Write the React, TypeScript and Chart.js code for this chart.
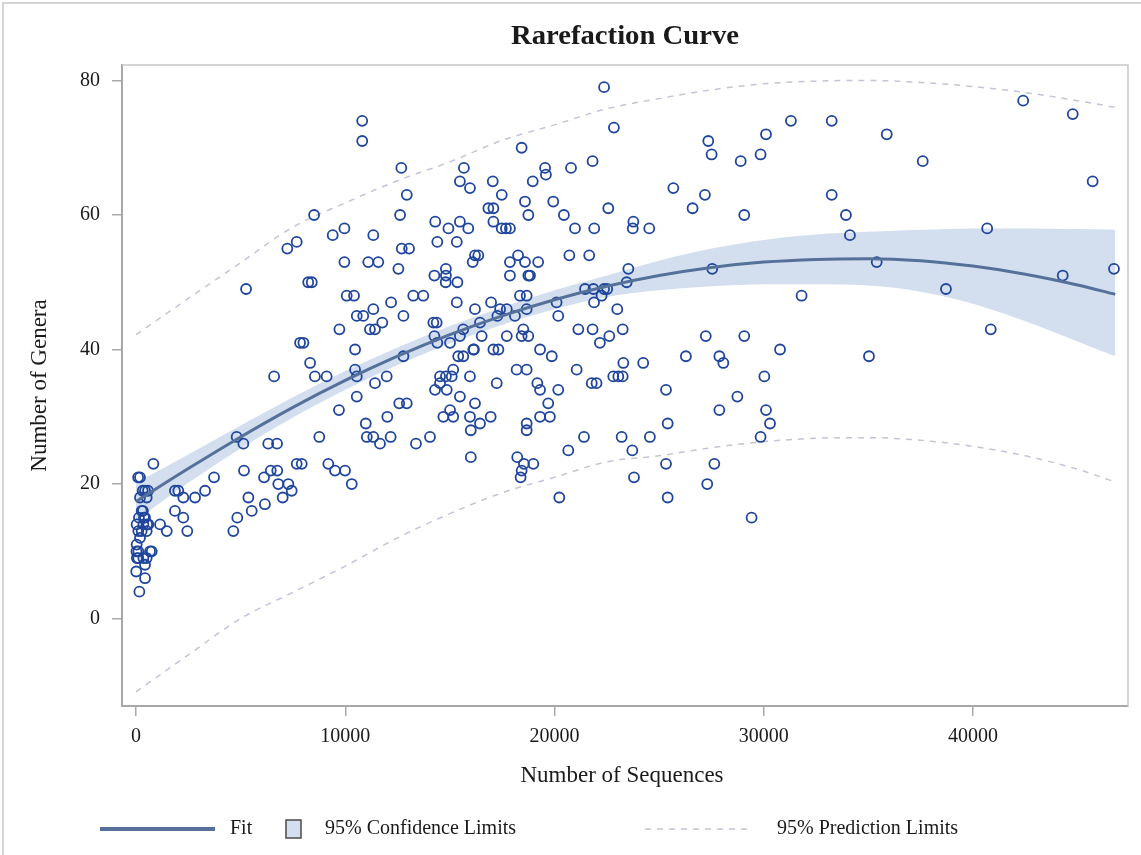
import React, { useEffect, useRef } from 'react';
import { Chart, registerables } from 'chart.js';

Chart.register(...registerables);

// ---- Data ----
const titleText = 'Rarefaction Curve';
const xTitle = 'Number of Sequences';
const yTitle = 'Number of Genera';
const legendLabels = ['Fit', '95% Confidence Limits', '95% Prediction Limits'];

const xTicks = [0, 10000, 20000, 30000, 40000];
const yTicks = [0, 20, 40, 60, 80];

// observed samples: [number of sequences, number of genera]
const observations: [number, number][] = [
  [830,23],[190,21],[100,21],[320,19],[570,19],[430,19],[190,18],[510,18],[330,16],[270,16],[430,15],[30,14],[350,14],[590,14],[110,13],[270,13],[510,13],[190,12],[140,15],[530,14],[380,15],[30,11],[110,10],[20,10],[110,9],[750,10],[510,9],[350,9],[430,8],[10,7],[430,6],[160,4],[40,9],[670,10],
  [1860,19],[2020,19],[2260,18],[2820,18],[3300,19],[3730,21],[1860,16],[2260,15],[2450,13],[1150,14],[1470,13],[4810,27],[5130,26],[6320,26],[6740,26],[5160,22],[6120,21],[6440,22],[6750,22],[6800,20],[7280,20],[7010,18],[7440,19],[5370,18],[5530,16],[6160,17],[4840,15],[4650,13],[7680,23],[7920,23],
  [6600,36],[7840,41],[8760,27],[9700,31],[10550,33],[11420,35],[10980,29],[11030,27],[11340,27],[11660,26],[12010,30],[12170,27],[12580,32],[12940,32],[9190,23],[9510,22],[9990,22],[10310,20],
  [10810,74],[10810,71],[12680,67],[15670,67],[12940,63],[15480,65],[15960,64],[17050,65],[8510,60],[12620,60],[9400,57],[9960,58],[11340,57],[7230,55],[7680,56],[12700,55],[13050,55],[14300,59],[14930,58],[15480,59],[15880,58],[14400,56],[15330,56],[16840,61],[17080,61],[17080,59],[9960,53],[11100,53],[11580,53],[12540,52],[16200,54],[16360,54],[16090,53],[5260,49],[8230,50],[8400,50],[10070,48],[10420,48],[13250,48],[13730,48],[14260,51],[14810,52],[14810,51],[15360,50],[14800,50],[12190,47],[10550,45],[10860,45],[11340,46],[12780,45],[15330,47],[16200,46],[16970,47],[11180,43],[11420,43],[11770,44],[9720,43],[8000,41],[14210,44],[14370,44],[14260,42],[14400,41],[15010,41],[15480,42],[15640,43],[16150,40],[16520,42],[16440,44],[10470,40],[8320,38],[8550,36],[9110,36],[10470,37],[10550,36],[11980,36],[12780,39],[15400,39],[15640,39],[16120,40],[14530,36],[14810,36],[15160,37],[15090,36],[15960,36],[14530,35],[14290,34],[14850,34],[15480,33],[16200,32],[17080,40],[17320,40],[17240,35],
  [17870,53],[18260,54],[18590,53],[19220,53],[17870,51],[18750,51],[18830,51],[17720,46],[17400,46],[17270,45],[18110,45],[18350,48],[18670,48],[18670,46],[18510,43],[18750,42],[18430,42],[17720,42],[19310,40],[15010,31],[15160,30],[14690,30],[15960,30],[16440,29],[18190,37],[18670,37],[19180,35],[19310,34],[19700,32],[16950,30],[18670,29],[19310,30],[18670,28],
  [13380,26],[14050,27],[16000,24],[18220,24],[18540,23],[18430,22],[18380,21],[18990,23],[20660,25],[21410,27],[20230,18],[23210,27],[24560,27],[23720,25],[23800,21],[25330,34],[25410,29],[25330,23],[25410,18],[16000,28],
  [22370,79],[22840,73],[18430,70],[21820,68],[19550,67],[19590,66],[20790,67],[17480,63],[18960,65],[18590,62],[18750,60],[19940,62],[20450,60],[20980,58],[21900,58],[22570,61],[23770,59],[23740,58],[24530,58],[25680,64],[26600,61],[17480,58],[17680,58],[17870,58],[20710,54],[21660,54],[23530,52],[23450,50],[21460,49],[21860,49],[22370,49],[22520,49],[21890,47],[22250,48],[23000,46],[20100,47],[20180,45],[21140,43],[21820,43],[22170,41],[22620,42],[23260,43],[24240,38],[23290,38],[26280,39],[21060,37],[22810,36],[23050,36],[23260,36],[21780,35],[22010,35],[20180,34],[19870,39],[19780,30],
  [42400,77],[44770,75],[31300,74],[33250,74],[35880,72],[30110,72],[27350,71],[27510,69],[28900,68],[29850,69],[37600,68],[45720,65],[27190,63],[29070,60],[33250,63],[33930,60],[34120,57],[40680,58],[27540,52],[35400,53],[44290,51],[46740,52],[31810,48],[38710,49],[40850,43],[35030,39],[27230,42],[29070,42],[27880,39],[28070,38],[30780,40],[30030,36],[28740,33],[27880,31],[30110,31],[30300,29],[29850,27],[27640,23],[27300,20],[29420,15],
];

// fitted curve and limits, read at these x positions
const curveX = [0, 2500, 5000, 7500, 10000, 12500, 15000, 17500, 20000, 22500, 25000, 27500, 30000, 32500, 35000, 37500, 40000, 42500, 45000, 46800];
const fitY = [17.4, 22.3, 27.0, 31.4, 35.4, 39.0, 42.2, 45.0, 47.4, 49.4, 51.0, 52.2, 53.0, 53.4, 53.5, 53.2, 52.4, 51.2, 49.6, 48.2];
const clmUpper = [20.2, 24.4, 28.7, 32.9, 36.8, 40.3, 43.5, 46.3, 48.8, 51.0, 53.2, 55.0, 56.3, 57.1, 57.5, 57.8, 58.0, 58.0, 57.9, 57.8];
const clmLower = [14.6, 20.2, 25.3, 29.9, 34.0, 37.7, 40.9, 43.7, 46.0, 47.8, 48.8, 49.4, 49.7, 49.7, 49.5, 48.6, 46.8, 44.2, 41.2, 39.0];
const predUpper = [42.2, 47.6, 52.9, 58.2, 61.8, 65.1, 67.9, 71.1, 73.4, 75.8, 77.3, 78.6, 79.5, 79.9, 80.0, 79.7, 79.1, 78.2, 77.0, 76.0];
const predLower = [-10.9, -5.4, 0.0, 3.9, 7.8, 12.0, 15.6, 18.7, 21.0, 23.3, 24.2, 25.4, 26.3, 26.8, 26.9, 26.5, 25.6, 24.2, 22.2, 20.3];

// ---- Styles ----
const W = 1141;
const H = 855;
const SERIF = '"Liberation Serif", "Times New Roman", Times, serif';
const markerColor = '#1f459c';
const fitColor = '#55719a';
const bandColor = '#d3dfef';
const predColor = '#c4c4d6';
const axisColor = '#a8a8a8';
const textColor = '#1a1a1a';

const toPts = (ys: number[]) => curveX.map((x, i) => ({ x, y: ys[i] }));

const decorPlugin = {
  id: 'decor',
  afterDraw(chart: any) {
    const { ctx, chartArea: a } = chart;
    ctx.save();
    // outer border
    ctx.strokeStyle = '#d4d4d4';
    ctx.lineWidth = 2;
    ctx.strokeRect(3, 3, W + 20, H + 20);
    // plot frame top/right
    ctx.strokeStyle = '#c8c8c8';
    ctx.lineWidth = 1.5;
    ctx.beginPath();
    ctx.moveTo(a.left, a.top);
    ctx.lineTo(a.right, a.top);
    ctx.lineTo(a.right, a.bottom);
    ctx.stroke();

    ctx.fillStyle = textColor;
    // title
    ctx.font = `bold 28px ${SERIF}`;
    ctx.textBaseline = 'middle';
    ctx.textAlign = 'center';
    const tw = ctx.measureText(titleText).width;
    const cx = (a.left + a.right) / 2;
    ctx.save();
    ctx.translate(cx, 37);
    ctx.scale(228 / tw, 1);
    ctx.fillText(titleText, 0, 0);
    ctx.restore();

    // axis titles
    ctx.font = `23px ${SERIF}`;
    ctx.fillText(xTitle, cx - 3, 776);
    ctx.save();
    ctx.translate(40, (a.top + a.bottom) / 2);
    ctx.rotate(-Math.PI / 2);
    ctx.fillText(yTitle, 0, 0);
    ctx.restore();

    // legend
    const ly = 829;
    ctx.strokeStyle = fitColor;
    ctx.lineWidth = 4;
    ctx.beginPath();
    ctx.moveTo(100, ly);
    ctx.lineTo(215, ly);
    ctx.stroke();
    ctx.font = `20px ${SERIF}`;
    ctx.textAlign = 'left';
    ctx.fillText(legendLabels[0], 230, ly);
    ctx.fillStyle = bandColor;
    ctx.fillRect(286, 820, 15, 18);
    ctx.strokeStyle = '#4a4a4a';
    ctx.lineWidth = 1.5;
    ctx.strokeRect(286, 820, 15, 18);
    ctx.fillStyle = textColor;
    ctx.fillText(legendLabels[1], 325, ly);
    ctx.strokeStyle = predColor;
    ctx.lineWidth = 1.5;
    ctx.setLineDash([6, 6]);
    ctx.beginPath();
    ctx.moveTo(645, ly);
    ctx.lineTo(752, ly);
    ctx.stroke();
    ctx.setLineDash([]);
    ctx.fillText(legendLabels[2], 777, ly);
    ctx.restore();
  },
};

export default function App() {
  const ref = useRef<HTMLCanvasElement | null>(null);

  useEffect(() => {
    document.body.style.margin = '0';
    const canvas = ref.current;
    if (!canvas) return;
    const chart = new Chart(canvas, {
      type: 'scatter',
      data: {
        datasets: [
          {
            type: 'line',
            label: 'clmLower',
            data: toPts(clmLower),
            borderWidth: 0,
            borderColor: 'rgba(0,0,0,0)',
            pointRadius: 0,
            fill: false,
            cubicInterpolationMode: 'monotone',
            order: 6,
          } as any,
          {
            type: 'line',
            label: 'clmUpper',
            data: toPts(clmUpper),
            borderWidth: 0,
            borderColor: 'rgba(0,0,0,0)',
            backgroundColor: bandColor,
            pointRadius: 0,
            fill: '-1',
            cubicInterpolationMode: 'monotone',
            order: 5,
          } as any,
          {
            type: 'line',
            label: 'predUpper',
            data: toPts(predUpper),
            borderColor: predColor,
            borderWidth: 1.5,
            borderDash: [6, 6],
            pointRadius: 0,
            fill: false,
            cubicInterpolationMode: 'monotone',
            order: 4,
          } as any,
          {
            type: 'line',
            label: 'predLower',
            data: toPts(predLower),
            borderColor: predColor,
            borderWidth: 1.5,
            borderDash: [6, 6],
            pointRadius: 0,
            fill: false,
            cubicInterpolationMode: 'monotone',
            order: 4,
          } as any,
          {
            type: 'scatter',
            label: 'obs',
            data: observations.map(([x, y]) => ({ x, y })),
            pointRadius: 5,
            pointBorderWidth: 1.8,
            pointBorderColor: markerColor,
            pointBackgroundColor: 'rgba(0,0,0,0)',
            showLine: false,
            order: 2,
          } as any,
          {
            type: 'line',
            label: 'fit',
            data: toPts(fitY),
            borderColor: fitColor,
            borderWidth: 3,
            pointRadius: 0,
            fill: false,
            cubicInterpolationMode: 'monotone',
            order: 1,
          } as any,
        ],
      },
      options: {
        responsive: false,
        animation: false,
        devicePixelRatio: 1,
        events: [],
        layout: { padding: { top: 65, right: 13, left: 0, bottom: 0 } },
        plugins: {
          legend: { display: false },
          title: { display: false },
          tooltip: { enabled: false },
          filler: { drawTime: 'beforeDatasetsDraw' },
        } as any,
        scales: {
          x: {
            type: 'linear',
            min: -670,
            max: 47410,
            afterFit: (s: any) => { s.height = H - 706; },
            afterBuildTicks: (s: any) => { s.ticks = xTicks.map((v) => ({ value: v })); },
            ticks: {
              color: textColor,
              font: { family: SERIF, size: 20 },
              padding: 9,
              maxRotation: 0,
              callback: (v: any) => String(v),
            },
            grid: { drawOnChartArea: false, drawTicks: true, tickLength: 10, color: axisColor, lineWidth: 1.5 },
            border: { display: true, color: axisColor, width: 2 },
          },
          y: {
            type: 'linear',
            min: -13,
            max: 82.3,
            afterFit: (s: any) => { s.width = 122; },
            afterBuildTicks: (s: any) => { s.ticks = yTicks.map((v) => ({ value: v })); },
            ticks: {
              color: textColor,
              font: { family: SERIF, size: 20 },
              padding: 12,
              callback: (v: any) => String(v),
            },
            grid: { drawOnChartArea: false, drawTicks: true, tickLength: 10, color: axisColor, lineWidth: 1.5 },
            border: { display: true, color: axisColor, width: 2 },
          },
        },
      },
      plugins: [decorPlugin],
    } as any);
    return () => chart.destroy();
  }, []);

  return (
    <div style={{ width: W, height: H, background: '#fff' }}>
      <canvas ref={ref} width={W} height={H} style={{ display: 'block', width: W, height: H }} />
    </div>
  );
}
